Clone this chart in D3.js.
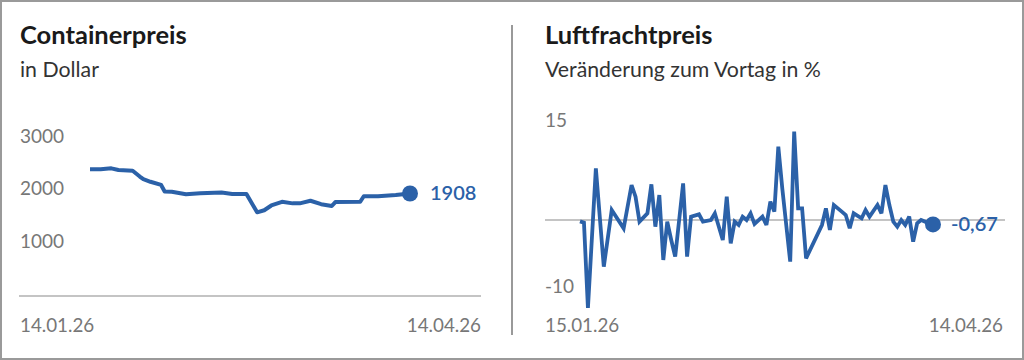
<!DOCTYPE html>
<html><head><meta charset="utf-8">
<script src="https://cdn.jsdelivr.net/npm/d3@7"></script>
<style>
html,body{margin:0;padding:0;background:#fff;}
svg{display:block;font-family:Lato,"Noto Sans",sans-serif;}
</style></head>
<body><svg id="c" width="1024" height="360"></svg>
<script>
// ---- data ----
const containerTitle = "Containerpreis";
const containerSubtitle = "in Dollar";
const containerDates = ["2026-01-14","2026-01-17","2026-01-20","2026-01-22","2026-01-26","2026-01-28","2026-01-29","2026-01-31","2026-02-03","2026-02-04","2026-02-06","2026-02-10","2026-02-14","2026-02-20","2026-02-23","2026-02-27","2026-03-02","2026-03-04","2026-03-06","2026-03-09","2026-03-12","2026-03-14","2026-03-17","2026-03-20","2026-03-23","2026-03-24","2026-03-31","2026-04-01","2026-04-05","2026-04-10","2026-04-12","2026-04-14"];
const containerValues = [2370,2370,2385,2355,2340,2230,2180,2130,2070,1945,1940,1895,1910,1925,1900,1900,1550,1590,1680,1750,1720,1720,1770,1705,1670,1745,1750,1855,1855,1880,1895,1908];
const containerTicks = [1000,2000,3000];
const containerRange = ["2026-01-14","2026-04-14"];

const airTitle = "Luftfrachtpreis";
const airSubtitle = "Veränderung zum Vortag in %";
const airDays = [0,1,2,4,6,8,11,13,14,15,17,18,19,20,21,22,23,24,26,27,28,30,31,33,34,36,37,38,39,40,41,42,43,44,46,47,48,49,50,51,53,54,55,56,57,61,62,63,64,66,67,68,69,71,72,73,75,76,77,78,79,80,81,82,83,84,85,86,88,89];
const airValues = [-0.2,-0.4,-13.2,7.75,-7,1.5,-1.25,5.25,3.5,-0.25,1,5.35,-1,3.75,-6,-0.25,-3,-5.5,5.5,-5.5,0.5,0.85,-0.25,0,1,-3,3.5,-3.5,-0.25,-0.75,0.5,0,1,-0.6,0.5,-0.75,2.75,1.25,11,4.75,-6.25,13.25,1.75,1.75,-5.75,-0.75,1.75,-1.5,2.25,1.25,0.75,-1.25,1,0.25,1.5,0.5,2.25,1,5.25,2.25,-0.25,-1,0,-0.75,0.5,-3.25,-0.5,0,-0.5,-0.67];
const airTicks = [-10,15];
const airRange = ["2026-01-15","2026-04-14"];

// ---- setup ----
const blue = "#2b61a8";
const parse = d3.utcParse("%Y-%m-%d");
const fmtDate = d3.utcFormat("%d.%m.%y");
const de = d3.formatLocale({decimal:",",thousands:".",grouping:[3],currency:["","€"],minus:"-"});
const svg = d3.select("#c");

svg.append("rect").attr("x",1).attr("y",1).attr("width",1022).attr("height",358)
  .attr("fill","#fff").attr("stroke","#9a9a9a").attr("stroke-width",2);
svg.append("line").attr("x1",512).attr("x2",512).attr("y1",25).attr("y2",335)
  .attr("stroke","#555").attr("stroke-width",1.2);

function titles(x, t, s){
  svg.append("text").attr("x",x).attr("y",44).attr("font-size",25.5).attr("font-weight",700)
    .attr("fill","#1a1a1a").text(t);
  svg.append("text").attr("x",x).attr("y",77).attr("font-size",21.3).attr("fill","#333").text(s);
}

// ---- left chart ----
titles(20, containerTitle, containerSubtitle);
const xL = d3.scaleUtc().domain(containerRange.map(parse)).range([90,410]);
const yL = d3.scaleLinear().domain([-40,3000]).range([296,136]);
const gL = svg.append("g");
gL.append("line").attr("x1",19).attr("x2",481).attr("y1",yL(-40)).attr("y2",yL(-40))
  .attr("stroke","#b0b0b0").attr("stroke-width",1.5);
gL.selectAll("text.tick").data(containerTicks).join("text").attr("class","tick")
  .attr("x",20).attr("y",d=>yL(d)).attr("dy","0.35em").attr("font-size",19).attr("fill","#777")
  .text(d=>d);
gL.append("text").attr("x",20).attr("y",332).attr("font-size",18.8).attr("fill","#777")
  .text(fmtDate(xL.domain()[0]));
gL.append("text").attr("x",481).attr("y",332).attr("text-anchor","end").attr("font-size",18.8).attr("fill","#777")
  .text(fmtDate(xL.domain()[1]));
const dL = containerDates.map((d,i)=>({x:parse(d), y:containerValues[i]}));
gL.append("path").datum(dL).attr("fill","none").attr("stroke",blue).attr("stroke-width",4)
  .attr("stroke-linejoin","round").attr("d",d3.line().x(d=>xL(d.x)).y(d=>yL(d.y)));
const lastL = dL[dL.length-1];
gL.append("circle").attr("cx",xL(lastL.x)).attr("cy",yL(lastL.y)).attr("r",8).attr("fill",blue);
gL.append("text").attr("x",xL(lastL.x)+20).attr("y",yL(lastL.y)).attr("dy","0.35em")
  .attr("font-size",20).attr("font-weight",600).attr("fill",blue).text(de.format(".0f")(lastL.y));

// ---- right chart ----
titles(545, airTitle, airSubtitle);
const base = parse(airRange[0]);
const xR = d3.scaleUtc().domain(airRange.map(parse)).range([580,933]);
const yR = d3.scaleLinear().domain([-13.5,15]).range([310,120]);
const gR = svg.append("g");
gR.append("line").attr("x1",545).attr("x2",1005).attr("y1",yR(0)).attr("y2",yR(0))
  .attr("stroke","#b0b0b0").attr("stroke-width",1.5);
gR.selectAll("text.tick").data(airTicks).join("text").attr("class","tick")
  .attr("x",545).attr("y",d=>yR(d)).attr("dy","0.35em").attr("font-size",19).attr("fill","#777")
  .text(d=>de.format("d")(d));
gR.append("text").attr("x",545).attr("y",332).attr("font-size",18.8).attr("fill","#777")
  .text(fmtDate(xR.domain()[0]));
gR.append("text").attr("x",1003).attr("y",332).attr("text-anchor","end").attr("font-size",18.8).attr("fill","#777")
  .text(fmtDate(xR.domain()[1]));
const dR = airDays.map((d,i)=>({x:d3.utcDay.offset(base,d), y:airValues[i]}));
gR.append("path").datum(dR).attr("fill","none").attr("stroke",blue).attr("stroke-width",3.8)
  .attr("stroke-linejoin","miter").attr("stroke-miterlimit",3).attr("d",d3.line().x(d=>xR(d.x)).y(d=>yR(d.y)));
const lastR = dR[dR.length-1];
gR.append("circle").attr("cx",xR(lastR.x)).attr("cy",yR(lastR.y)).attr("r",8).attr("fill",blue);
gR.append("text").attr("x",xR(lastR.x)+18).attr("y",yR(lastR.y)).attr("dy","0.35em")
  .attr("font-size",20).attr("font-weight",600).attr("fill",blue).text(de.format(".2f")(lastR.y));
</script></body></html>
